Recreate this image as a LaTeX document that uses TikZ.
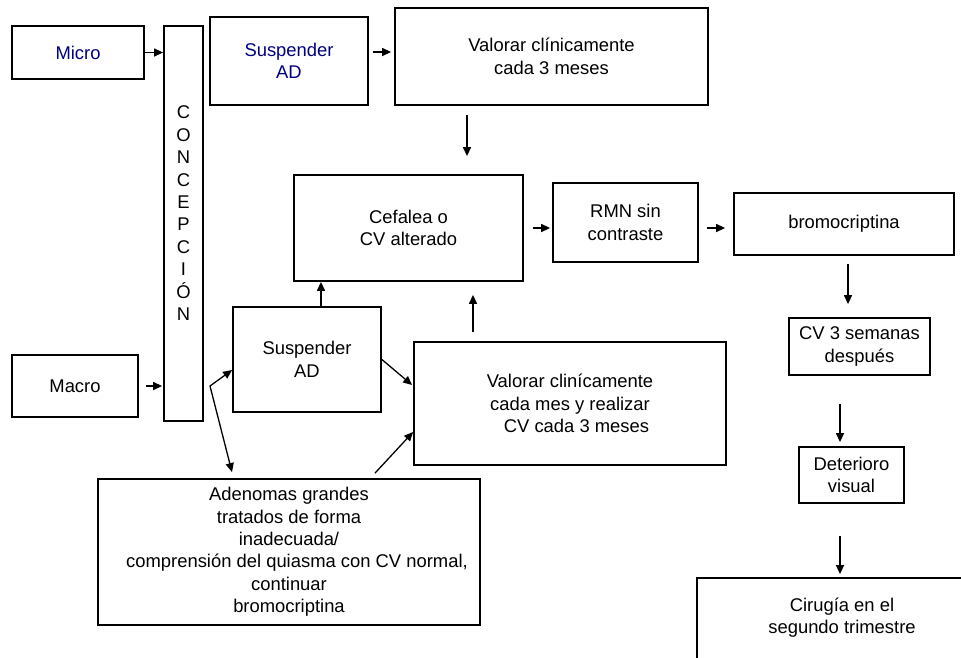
\documentclass[tikz,border=0pt]{standalone}
\usepackage{fontspec}
\setmainfont{Liberation Sans}
\usetikzlibrary{arrows.meta}
\definecolor{navytext}{RGB}{0,0,128}
\begin{document}
\begin{tikzpicture}[x=1pt,y=-1pt,
  box/.style={draw,line width=1.8pt,inner sep=0pt,align=center,
    font=\fontsize{18.4pt}{22.4pt}\selectfont},
  txt/.style={inner sep=0pt,align=center,font=\fontsize{18.4pt}{22.4pt}\selectfont},
  arr/.style={line width=1.3pt,-{Triangle[length=9pt,width=8pt]}},
  dbl/.style={line width=1.3pt,{Triangle[length=9pt,width=8pt]}-{Triangle[length=9pt,width=8pt]}}]

\fill[white] (0,0) rectangle (961,657);

% boxes
\node[box,minimum width=132pt,minimum height=53pt,text=navytext] (micro) at (78,52.5) {Micro};
\node[box,minimum width=39pt,minimum height=395pt] (conc) at (183.5,223.5) {};
\node[txt] (conctxt) at (183.5,213.25) {C\\O\\N\\C\\E\\P\\C\\I\\Ó\\N};
\node[box,minimum width=158pt,minimum height=88pt,text=navytext] (sus1) at (289,61) {Suspender\\AD};
\node[box,minimum width=313pt,minimum height=97pt] (val1) at (551.5,56.5) {Valorar clínicamente\\cada 3 meses};
\node[box,minimum width=229pt,minimum height=106pt] (cef) at (408.5,228) {Cefalea o\\CV alterado};
\node[box,minimum width=145pt,minimum height=79pt] (rmn) at (625.5,222.5) {RMN sin\\contraste};
\node[box,minimum width=220pt,minimum height=62pt] (bromo) at (844,224) {bromocriptina};
\node[box,minimum width=141pt,minimum height=57pt] (cv3) at (859.5,346.5) {CV 3 semanas\\después};
\node[box,minimum width=105pt,minimum height=56pt] (det) at (851.5,475) {Deterioro\\visual};
\node[box,minimum width=290pt,minimum height=122pt] (cir) at (842,639) {};
\node[txt] (cirtxt) at (842,617.5) {Cirugía en el\\segundo trimestre};
\node[box,minimum width=148pt,minimum height=105pt] (sus2) at (307,359.5) {Suspender\\AD};
\node[box,minimum width=126pt,minimum height=62pt] (macro) at (75,386) {Macro};
\node[box,minimum width=312pt,minimum height=123pt] (val2) at (570,403.5) {Valorar clinícamente\\cada mes y realizar\\\hspace*{13pt}CV cada 3 meses};
\node[box,minimum width=382pt,minimum height=146pt] (aden) at (289,552) {Adenomas grandes\\tratados de forma\\inadecuada/\\\hspace*{16pt}comprensión del quiasma con CV normal,\\continuar\\bromocriptina};

\coordinate (bend) at (210,386);

% connectors
\draw[arr] (micro.east) -- (micro.east -| conc.west);
\draw[arr] ([shift={(4pt,9pt)}]sus1.east) -- ([shift={(-3pt,4.5pt)}]val1.west);
\draw[arr] ([shift={(-84.5pt,-9pt)}]val1.south) -- ([shift={(58.5pt,18pt)}]cef.north);
\draw[arr] ([shift={(9pt,0pt)}]cef.east) -- ([shift={(-2pt,-5.5pt)}]rmn.west);
\draw[arr] ([shift={(8pt,-5.5pt)}]rmn.east) -- ([shift={(-8pt,-4pt)}]bromo.west);
\draw[arr] ([shift={(4pt,-8pt)}]bromo.south) -- ([shift={(-11.5pt,13pt)}]cv3.north);
\draw[arr] ([shift={(-19.5pt,-28pt)}]cv3.south) -- ([shift={(-11.5pt,4pt)}]det.north);
\draw[arr] ([shift={(-11.5pt,-32pt)}]det.south) -- ([shift={(-2pt,3pt)}]cir.north);
\draw[arr] ([shift={(14pt,0pt)}]sus2.north) -- ([shift={(-87.5pt,0pt)}]cef.south);
\draw[arr] ([shift={(-97pt,9pt)}]val2.north) -- ([shift={(64.5pt,-13pt)}]cef.south);
\draw[arr] ([shift={(7pt,0pt)}]macro.east) -- ([shift={(-1pt,-162.5pt)}]conc.west);
\draw[dbl] ([yshift=-10.5pt]sus2.west) -- (bend) -- ([shift={(-57pt,6pt)}]aden.north);
\draw[arr] (sus2.east) -- ([shift={(-1pt,18.5pt)}]val2.west);
\draw[arr] ([shift={(86pt,5pt)}]aden.north) -- ([shift={(0pt,-28.5pt)}]val2.west);

\pgfresetboundingbox
\useasboundingbox (0,0) rectangle (961,657);
\end{tikzpicture}
\end{document}
